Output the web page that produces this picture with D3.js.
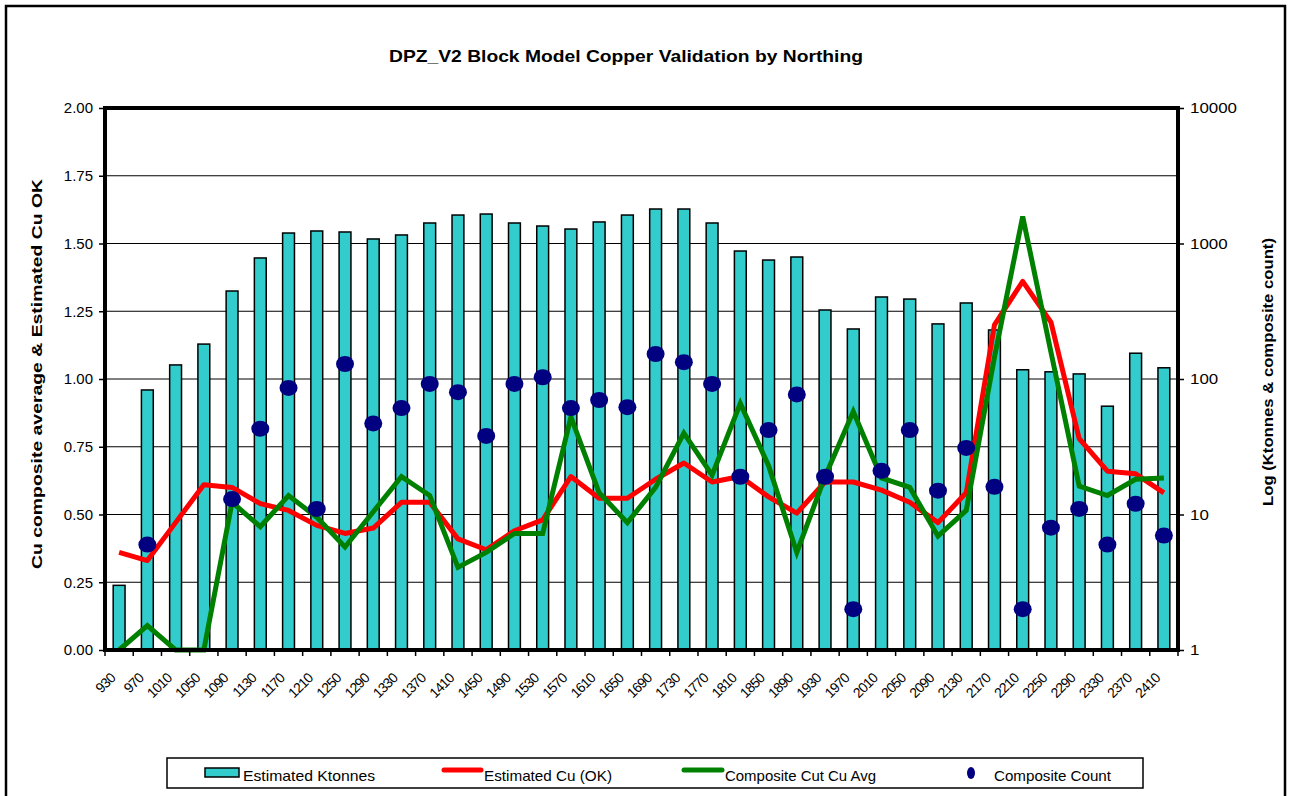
<!DOCTYPE html>
<html>
<head>
<meta charset="utf-8">
<script src="https://cdn.jsdelivr.net/npm/d3@7"></script>
<style>
  body { margin: 0; background: #fff; }
  svg { display: block; font-family: "Liberation Sans", Arial, sans-serif; }
</style>
</head>
<body>
<div class="main"></div>
<script>
// Northing categories
const northings = [930, 970, 1010, 1050, 1090, 1130, 1170, 1210, 1250, 1290,
    1330, 1370, 1410, 1450, 1490, 1530, 1570, 1610, 1650, 1690,
    1730, 1770, 1810, 1850, 1890, 1930, 1970, 2010, 2050, 2090,
    2130, 2170, 2210, 2250, 2290, 2330, 2370, 2410];

// Estimated Ktonnes (right log axis)
const ktonnes = [3, 83, 127, 181, 446, 782, 1195, 1237, 1216, 1080,
    1156, 1417, 1622, 1650, 1417, 1346, 1279, 1442, 1622, 1797,
    1797, 1417, 880, 755, 795, 323, 234, 403, 389, 255,
    364, 230, 117, 113, 109, 63, 155, 121];

// Estimated Cu (OK) (left axis)
const estCu = [0.36, 0.33, 0.47, 0.61, 0.60, 0.54, 0.515, 0.46, 0.43, 0.45,
    0.545, 0.545, 0.41, 0.37, 0.44, 0.48, 0.64, 0.56, 0.56, 0.63,
    0.69, 0.62, 0.64, 0.565, 0.505, 0.62, 0.62, 0.59, 0.545, 0.47,
    0.58, 1.20, 1.36, 1.21, 0.78, 0.66, 0.65, 0.58];

// Composite Cut Cu Avg (left axis)
const compCu = [0, 0.09, 0, 0, 0.545, 0.455, 0.57, 0.49, 0.38, 0.51,
    0.64, 0.57, 0.305, 0.36, 0.43, 0.43, 0.86, 0.58, 0.47, 0.60,
    0.80, 0.645, 0.91, 0.68, 0.36, 0.64, 0.88, 0.635, 0.60, 0.42,
    0.515, 1.08, 1.60, 1.10, 0.605, 0.57, 0.63, 0.635];

// Composite Count (right log axis), null = no composites
const compCount = [null, 6, null, null, 13, 43, 86, 11, 129, 47,
    61, 92, 80, 38, 92, 103, 61, 70, 62, 153,
    133, 92, 19, 42, 77, 19, 2, 21, 42, 15,
    31, 16, 2, 8, 11, 6, 12, 7];

const leftTicks = [0, 0.25, 0.5, 0.75, 1, 1.25, 1.5, 1.75, 2];
const rightTicks = [1, 10, 100, 1000, 10000];

const w = 1292;
const h = 796;
const plot = { left: 105, right: 1178, top: 108, bottom: 650 };

const svg = d3.select(".main").append("svg").attr("width", w).attr("height", h);

// outer chart frame
svg.append("rect")
    .attr("x", 6).attr("y", 6)
    .attr("width", 1279).attr("height", 800)
    .attr("fill", "#fff").attr("stroke", "#000").attr("stroke-width", 2.5);

// scales
const xScale = d3.scaleBand()
    .domain(northings)
    .range([plot.left, plot.right]);

const yLeft = d3.scaleLinear().domain([0, 2]).range([plot.bottom, plot.top]);
const yRight = d3.scaleLog().domain([1, 10000]).range([plot.bottom, plot.top]);

const cx = (d) => xScale(d) + xScale.bandwidth() / 2;

// gridlines
svg.append("g")
    .selectAll("line")
    .data(leftTicks.slice(1, -1))
    .join("line")
    .attr("x1", plot.left).attr("x2", plot.right)
    .attr("y1", (d) => yLeft(d)).attr("y2", (d) => yLeft(d))
    .attr("stroke", "#000").attr("stroke-width", 1);

// bars
const barW = xScale.bandwidth() * 0.42;
svg.append("g")
    .selectAll("rect")
    .data(northings)
    .join("rect")
    .attr("x", (d) => cx(d) - barW / 2)
    .attr("y", (d, i) => yRight(ktonnes[i]))
    .attr("width", barW)
    .attr("height", (d, i) => plot.bottom - yRight(ktonnes[i]))
    .attr("fill", "#33CCCC")
    .attr("stroke", "#000")
    .attr("stroke-width", 1.5);

// lines
const line = d3.line()
    .x((d) => cx(d[0]))
    .y((d) => yLeft(d[1]));

svg.append("path")
    .datum(northings.map((n, i) => [n, estCu[i]]))
    .attr("d", line)
    .attr("fill", "none")
    .attr("stroke", "#FF0000")
    .attr("stroke-width", 5)
    .attr("stroke-linejoin", "round");

svg.append("path")
    .datum(northings.map((n, i) => [n, compCu[i]]))
    .attr("d", line)
    .attr("fill", "none")
    .attr("stroke", "#008000")
    .attr("stroke-width", 5)
    .attr("stroke-linejoin", "miter");

// composite count dots
svg.append("g")
    .selectAll("ellipse")
    .data(northings.filter((n, i) => compCount[i] != null))
    .join("ellipse")
    .attr("cx", (d) => cx(d))
    .attr("cy", (d) => yRight(compCount[northings.indexOf(d)]))
    .attr("rx", 9)
    .attr("ry", 8)
    .attr("fill", "#000080");

// plot border
svg.append("rect")
    .attr("x", plot.left).attr("y", plot.top)
    .attr("width", plot.right - plot.left)
    .attr("height", plot.bottom - plot.top)
    .attr("fill", "none").attr("stroke", "#000").attr("stroke-width", 4);

// axes
const leftAxis = d3.axisLeft(yLeft)
    .tickValues(leftTicks)
    .tickFormat(d3.format(".2f"))
    .tickSize(6).tickPadding(6);
svg.append("g")
    .attr("transform", `translate(${plot.left},0)`)
    .call(leftAxis)
    .call((g) => g.select(".domain").remove())
    .call((g) => g.selectAll("line").attr("stroke-width", 1.5))
    .call((g) => g.selectAll("text").attr("font-size", 15).attr("fill", "#000")
        .attr("font-family", "Liberation Sans, Arial, sans-serif"));

const rightAxis = d3.axisRight(yRight)
    .tickValues(rightTicks)
    .tickFormat(d3.format("d"))
    .tickSize(6).tickPadding(6);
svg.append("g")
    .attr("transform", `translate(${plot.right},0)`)
    .call(rightAxis)
    .call((g) => g.select(".domain").remove())
    .call((g) => g.selectAll("line").attr("stroke-width", 1.5))
    .call((g) => g.selectAll("text").attr("font-size", 15).attr("fill", "#000")
        .attr("font-family", "Liberation Sans, Arial, sans-serif")
        .attr("textLength", (d) => String(d).length * 9.4)
        .attr("lengthAdjust", "spacingAndGlyphs"));

// bottom ticks at category boundaries
const bounds = northings.map((d) => xScale(d)).concat([plot.right]);
svg.append("g")
    .selectAll("line")
    .data(bounds)
    .join("line")
    .attr("x1", (d) => d).attr("x2", (d) => d)
    .attr("y1", plot.bottom).attr("y2", plot.bottom + 6)
    .attr("stroke", "#000").attr("stroke-width", 1.5);

svg.append("g")
    .selectAll("text")
    .data(northings)
    .join("text")
    .attr("transform", (d) => `translate(${cx(d) - 3},${plot.bottom + 29}) rotate(-45)`)
    .attr("text-anchor", "end")
    .attr("font-size", 14)
    .attr("letter-spacing", -0.8)
    .text((d) => d);

// titles
svg.append("text")
    .attr("x", 626).attr("y", 62)
    .attr("text-anchor", "middle")
    .attr("font-size", 17).attr("font-weight", "bold")
    .attr("textLength", 474).attr("lengthAdjust", "spacingAndGlyphs")
    .text("DPZ_V2 Block Model Copper Validation by Northing");

svg.append("text")
    .attr("transform", `translate(42,${(plot.top + plot.bottom) / 2 - 5}) rotate(-90)`)
    .attr("text-anchor", "middle")
    .attr("font-size", 15).attr("font-weight", "bold")
    .attr("textLength", 390).attr("lengthAdjust", "spacingAndGlyphs")
    .text("Cu composite average & Estimated Cu OK");

svg.append("text")
    .attr("transform", `translate(1273,${(plot.top + plot.bottom) / 2 - 7}) rotate(-90)`)
    .attr("text-anchor", "middle")
    .attr("font-size", 15).attr("font-weight", "bold")
    .attr("textLength", 268).attr("lengthAdjust", "spacingAndGlyphs")
    .text("Log (Ktonnes & composite count)");

// legend
const legend = svg.append("g").attr("id", "legend");
legend.append("rect")
    .attr("x", 167).attr("y", 758)
    .attr("width", 976).attr("height", 30)
    .attr("fill", "#fff").attr("stroke", "#000").attr("stroke-width", 1.5);

legend.append("rect")
    .attr("x", 205).attr("y", 768).attr("width", 34).attr("height", 9)
    .attr("fill", "#33CCCC").attr("stroke", "#000").attr("stroke-width", 1.5);
legend.append("text").attr("x", 243).attr("y", 781).attr("font-size", 15)
    .attr("textLength", 132).attr("lengthAdjust", "spacingAndGlyphs")
    .text("Estimated Ktonnes");

legend.append("line")
    .attr("x1", 444).attr("x2", 481).attr("y1", 770).attr("y2", 770)
    .attr("stroke", "#FF0000").attr("stroke-width", 5).attr("stroke-linecap", "round");
legend.append("text").attr("x", 484).attr("y", 781).attr("font-size", 15)
    .attr("textLength", 128).attr("lengthAdjust", "spacingAndGlyphs")
    .text("Estimated Cu (OK)");

legend.append("line")
    .attr("x1", 684).attr("x2", 722).attr("y1", 770).attr("y2", 770)
    .attr("stroke", "#008000").attr("stroke-width", 5).attr("stroke-linecap", "round");
legend.append("text").attr("x", 725).attr("y", 781).attr("font-size", 15)
    .attr("textLength", 151).attr("lengthAdjust", "spacingAndGlyphs")
    .text("Composite Cut Cu Avg");

legend.append("ellipse")
    .attr("cx", 971).attr("cy", 773).attr("rx", 4).attr("ry", 6)
    .attr("fill", "#000080");
legend.append("text").attr("x", 994).attr("y", 781).attr("font-size", 15)
    .attr("textLength", 117).attr("lengthAdjust", "spacingAndGlyphs")
    .text("Composite Count");
</script>
</body>
</html>
